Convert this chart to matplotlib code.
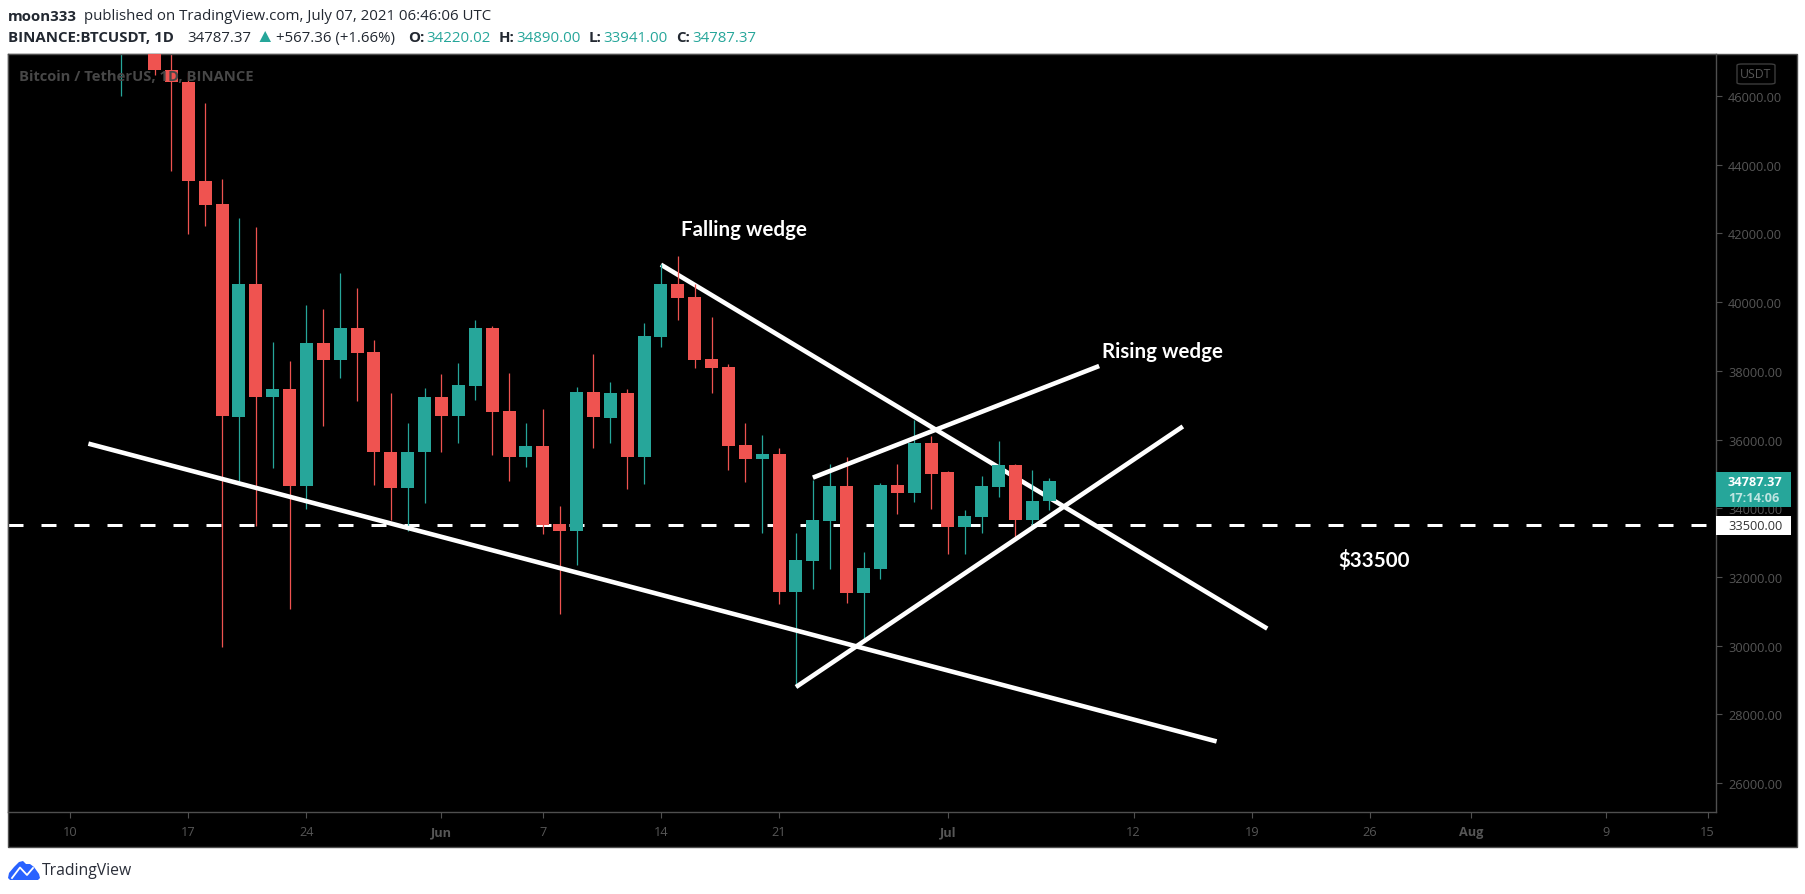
import pandas as pd
import matplotlib
matplotlib.use('Agg')
import matplotlib.pyplot as plt
import matplotlib.dates as mdates
from matplotlib.patches import Rectangle, FancyBboxPatch, Polygon

W, H = 1805, 895
UP = '#26A69A'
DOWN = '#EF5350'
AXIS_TXT = '#565656'
FRAME = '#4f4f4f'

# daily candles, 13 May to 7 Jul 2021 (first few bodies run off the top of the chart)
start_date = '2021-05-13'
opens = [49500, 49680, 49850, 46770, 46420, 43533, 42860, 36650, 40525, 37235, 37460, 34640, 38800, 38315,
         39240, 38540, 35650, 34575, 35630, 37250, 36680, 37555, 39240, 36820, 35480, 35800, 33550, 33350,
         37370, 36640, 37340, 35500, 38980, 40530, 40150, 38340, 38100, 35830, 35440, 35590, 31560, 32470,
         33630, 34650, 31530, 32240, 34680, 34450, 35910, 35040, 33460, 33750, 34620, 35270, 33660, 34220.02]
closes = [49670, 49850, 46750, 46420, 43512, 42840, 36680, 40525, 37235, 37460, 34640, 38800, 38315, 39240,
          38520, 35630, 34575, 35650, 37250, 36680, 37575, 39240, 36800, 35480, 35800, 33520, 33350, 37370,
          36650, 37340, 35500, 39010, 40530, 40120, 38310, 38070, 35800, 35440, 35590, 31560, 32500, 33660,
          34650, 31530, 32260, 34680, 34450, 35910, 35010, 33460, 33780, 34650, 35270, 33660, 34220, 34787.37]
highs = [51367, 51500, 50700, 49800, 46686, 45810, 43590, 42450, 42190, 38830, 38280, 39910, 39800, 40850,
         40410, 38890, 37340, 36490, 37490, 37900, 38220, 39470, 39300, 37930, 36470, 36900, 34070, 37520,
         38480, 37660, 37460, 39390, 41110, 41340, 40530, 39560, 38190, 36470, 36140, 35740, 33270, 34830,
         35300, 35500, 32730, 34740, 35300, 36580, 36090, 35070, 33960, 34950, 35970, 35300, 35120, 34890]
lows = [46000, 48900, 46600, 43804, 41994, 42228, 29950, 34800, 33470, 35160, 31070, 33990, 36390, 37790,
        37120, 34665, 33660, 33350, 34140, 35630, 35890, 37150, 35540, 34780, 35190, 33260, 30930, 32360,
        35745, 35910, 34570, 34710, 38690, 39470, 38070, 37340, 35100, 34770, 33270, 31210, 28790, 31650,
        32240, 31240, 30100, 31940, 33840, 34190, 33990, 32670, 32670, 33270, 34330, 33080, 33490, 33941]

level_price = 33500
last_price = 34787.37
price_ticks = list(range(26000, 46001, 2000))

# hand drawn trend lines (time, price)
lower_dates = ['2021-05-11 02:00', '2021-07-16 22:00']
lower_prices = [35880, 27210]
falling_dates = ['2021-06-14 00:00', '2021-07-19 22:00']
falling_prices = [41090, 30495]
rising_dates = ['2021-06-23 00:00', '2021-07-09 23:00']
rising_prices = [34890, 38140]
support_dates = ['2021-06-22 00:00', '2021-07-14 22:00']
support_prices = [28795, 36380]

tick_dates = ['2021-05-10', '2021-05-17', '2021-05-24', '2021-06-01', '2021-06-07', '2021-06-14', '2021-06-21',
              '2021-07-01', '2021-07-12', '2021-07-19', '2021-07-26', '2021-08-01', '2021-08-09', '2021-08-15']
tick_labels = ['10', '17', '24', 'Jun', '7', '14', '21', 'Jul', '12', '19', '26', 'Aug', '9', '15']
month_labels = ['Jun', 'Jul', 'Aug']

plt.rcParams['font.family'] = ['Open Sans', 'DejaVu Sans']


def fx(px):
    return px / W


def fy(px):
    return 1 - px / H


def put(px, py, s, **kw):
    kw.setdefault('va', 'center')
    kw.setdefault('ha', 'left')
    return fig.text(fx(px), fy(py), s, **kw)


fig = plt.figure(figsize=(W / 100, H / 100), dpi=100, facecolor='white')

# black panel behind chart, price scale and time scale
fig.patches.append(Rectangle((fx(8), fy(848)), fx(1789), 793 / H, transform=fig.transFigure,
                             facecolor='black', edgecolor=FRAME, linewidth=1.0, zorder=-1))

ax = fig.add_axes([fx(8), fy(813), fx(1708), 758 / H], facecolor='black')

dates = pd.date_range(start_date, periods=len(opens), freq='D')
x = mdates.date2num(dates)
colors = [UP if c >= o else DOWN for o, c in zip(opens, closes)]
bottoms = [min(o, c) for o, c in zip(opens, closes)]
heights = [abs(c - o) for o, c in zip(opens, closes)]


def line(date_list, prices, z):
    ax.plot(mdates.date2num(pd.to_datetime(date_list)), prices, color='white', lw=3.3,
            solid_capstyle='butt', zorder=z)


ax.axhline(level_price, color='white', lw=2.16, linestyle=(0, (5, 6)), zorder=1)
line(falling_dates, falling_prices, 1.5)
ax.vlines(x, lows, highs, colors=colors, lw=0.9, zorder=2)
ax.bar(x, heights, bottom=bottoms, width=0.77, color=colors, linewidth=0, zorder=3)
line(lower_dates, lower_prices, 4)
line(rising_dates, rising_prices, 4)
line(support_dates, support_prices, 4)

jun14 = mdates.date2num(pd.Timestamp('2021-06-14'))
ax.set_xlim(jun14 - 38.68, jun14 + 62.5)
ax.set_ylim(25156, 47223)

ax.yaxis.tick_right()
ax.set_yticks(price_ticks)
ax.set_yticklabels(['%.2f' % p for p in price_ticks])
ax.set_xticks(mdates.date2num(pd.to_datetime(tick_dates)))
ax.set_xticklabels(tick_labels)
ax.tick_params(axis='y', length=4.3, width=0.8, color=FRAME, labelcolor=AXIS_TXT, labelsize=9.2, pad=4.3)
ax.tick_params(axis='x', length=4.3, width=0.8, color=FRAME, labelcolor=AXIS_TXT, labelsize=9.2, pad=5)
for lab in ax.get_xticklabels():
    if lab.get_text() in month_labels:
        lab.set_fontweight('bold')
for s in ax.spines.values():
    s.set_color(FRAME)
    s.set_linewidth(1.0)

# text drawn on the chart
note_font = dict(color='white', fontweight='bold', family=['Lato', 'DejaVu Sans'], fontsize=14.8)
put(681, 230.5, 'Falling wedge', **note_font)
put(1102, 351.5, 'Rising wedge', **note_font)
put(1338, 560.5, '$33500', **note_font)
put(19, 77, 'Bitcoin / TetherUS, 1D, BINANCE', color='#474747', fontweight='bold', fontsize=10.6)

# header lines
head = dict(fontsize=10.8, color='#222831')
put(8, 17, 'moon333', fontweight='bold', **head)
put(84, 17, 'published on TradingView.com, July 07, 2021 06:46:06 UTC', **head)
put(8, 38.5, 'BINANCE:BTCUSDT, 1D', fontweight='bold', **head)
put(187.5, 38.5, '%.2f' % last_price, **head)
fig.patches.append(Polygon([(fx(259.5), fy(43)), (fx(271), fy(43)), (fx(265.2), fy(32))],
                           transform=fig.transFigure, facecolor=UP, edgecolor='none'))
put(276, 38.5, '+567.36 (+1.66%)', **head)
ohlc_labels = [('O:', 408, 426.7, opens[-1]), ('H:', 499, 516.7, highs[-1]),
               ('L:', 589, 603, lows[-1]), ('C:', 676, 692.7, closes[-1])]
for name, x_name, x_val, val in ohlc_labels:
    put(x_name, 38.5, name, fontweight='bold', **head)
    put(x_val, 38.5, '%.2f' % val, fontsize=10.8, color=UP)

# badges on the price scale
fig.patches.append(FancyBboxPatch((fx(1737), fy(85)), fx(38), 20 / H, transform=fig.transFigure, mutation_aspect=H / W,
                                  boxstyle='round,pad=0,rounding_size=0.003', facecolor='black', edgecolor='#3c3c3c',
                                  linewidth=1.0, zorder=3))
put(1756, 74.5, 'USDT', color=AXIS_TXT, fontsize=8.8, ha='center', zorder=4)

fig.patches.append(Rectangle((fx(1716), fy(508)), fx(75), 35 / H, transform=fig.transFigure,
                             facecolor=UP, edgecolor='none', zorder=3))
put(1728, 483, '%.2f' % last_price, color='white', fontweight='bold', fontsize=9.2, zorder=4)
put(1728, 499, '17:14:06', color='#bfe5e1', fontweight='bold', fontsize=9.2, zorder=4)
fig.patches.append(Rectangle((fx(1716), fy(536)), fx(75), 19 / H, transform=fig.transFigure,
                             facecolor='white', edgecolor='none', zorder=3))
put(1728, 526.5, '%.2f' % level_price, color='#333333', fontsize=9.2, zorder=4)

# TradingView logo
cloud = [(8, 879), (9, 874), (14, 868), (19, 863), (23, 862), (26, 865), (30, 865), (34, 868), (39, 875), (40, 879),
         (38, 881), (10, 881)]
fig.patches.append(Polygon([(fx(a), fy(b)) for a, b in cloud], transform=fig.transFigure,
                           facecolor='#2962FF', edgecolor='none', zorder=3))
zigzag = [(12, 879), (20, 868.5), (27, 876), (33, 869)]
fig.add_artist(plt.Line2D([fx(a) for a, b in zigzag], [fy(b) for a, b in zigzag], color='white', lw=1.3,
                          transform=fig.transFigure, zorder=4))
put(42, 871.5, 'TradingView', color='#2a2e39', fontsize=11.3)

fig.savefig('out.png', dpi=100, facecolor='white')
